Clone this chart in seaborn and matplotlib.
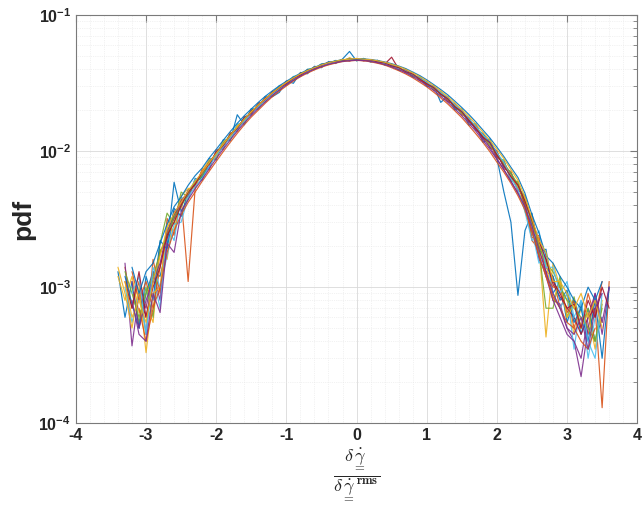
"""
PDFs of the normalised shear-rate fluctuation for a set of runs,
drawn MATLAB-style on a log y axis. Saves out.png.
"""
import numpy as np
import pandas as pd
import matplotlib
matplotlib.use("Agg")
import matplotlib.pyplot as plt
from matplotlib.ticker import FixedLocator, FixedFormatter, MultipleLocator
import seaborn as sns

# bin centres, -3.4 .. 3.6 in steps of 0.1
bin_centres = np.round(np.arange(-34, 37) / 10, 1)

# pdf values, in units of 1e-3 (None = no point)
run_01 = [1.3, 0.6, 1.1, 0.5, 0.9, 1.3, 1.2, 2.0, 5.9, 3.6,
          4.4, 6.3, 6.1, 8.8, 8.6, 12.1, 11.9, 18.5, 15.6, 20.5,
          20.3, 25.2, 25.1, 27.0, 32.8, 31.5, 37.8, 37.0, 42.0, 41.0,
          45.5, 44.0, 47.5, 54.0, 46.0, 48.0, 45.1, 46.5, 42.8, 43.6,
          39.2, 40.1, 34.9, 35.6, 29.8, 30.2, 22.8, 25.3, 20.1, 20.4,
          15.5, 15.9, 11.6, 12.3, 8.9, 5.0, 3.0, 0.87, 2.6, 3.5,
          1.8, 1.9, 0.9, 1.1, 0.55, 0.8, 0.45, 0.7, 0.4, 0.6, None]
run_02 = [None, 1.4, 0.7, 1.1, 0.45, 1.6, 0.9, 3.2, 2.4, 4.6,
          1.1, 5.3, 7.4, 7.3, 10.2, 10.3, 13.6, 14.0, 17.9, 18.4,
          22.6, 23.0, 27.5, 28.0, 32.5, 33.0, 37.5, 37.8, 41.6, 41.5,
          44.9, 44.6, 47.2, 46.0, 48.0, 46.1, 47.0, 44.6, 44.9, 41.8,
          41.5, 37.6, 37.3, 33.0, 32.4, 28.0, 27.4, 23.1, 22.3, 18.5,
          17.6, 14.2, 13.5, 10.6, 10.0, 7.4, 7.1, 5.0, 4.1, 2.2,
          1.9, 1.3, 1.2, 0.7, 0.9, 0.5, 0.75, 0.45, 0.7, 0.13, 1.1]
run_03 = [1.2, 0.8, 1.2, 0.65, 0.75, 0.55, 1.9, 1.6, 3.6, 3.4,
          4.6, 6.1, 6.4, 8.5, 8.8, 11.7, 12.1, 15.6, 16.1, 20.1,
          20.8, 24.9, 25.6, 30.0, 30.7, 35.1, 35.5, 39.8, 39.9, 43.6,
          43.4, 46.1, 45.7, 48.5, 46.4, 47.6, 45.8, 46.0, 43.5, 43.2,
          40.0, 39.5, 35.7, 34.9, 30.8, 29.9, 25.7, 24.8, 20.8, 19.9,
          16.3, 15.6, 12.2, 11.8, 8.9, 8.5, 6.1, 5.9, 3.6, 2.6,
          2.0, 0.43, 1.5, 1.0, 0.8, 0.45, 0.7, 0.5, 0.8, 0.55, None]
run_04 = [None, 1.5, 0.37, 0.9, 0.7, 1.3, 0.8, 2.4, 3.6, 3.9,
          5.2, 5.5, 7.2, 7.6, 9.9, 10.6, 13.3, 14.3, 17.7, 18.6,
          22.3, 23.3, 27.2, 28.2, 32.3, 33.2, 37.1, 37.9, 41.4, 41.7,
          44.8, 44.5, 46.9, 46.0, 47.8, 46.2, 47.1, 44.8, 44.7, 41.9,
          41.3, 37.9, 37.2, 33.2, 32.2, 28.3, 27.1, 23.4, 22.1, 18.7,
          17.4, 14.4, 13.3, 10.7, 9.9, 7.6, 6.9, 5.2, 4.6, 2.9,
          1.6, 1.3, 0.8, 0.75, 0.5, 0.4, 0.22, 0.5, 0.9, 0.45, 1.0]
run_05 = [None, None, 1.0, 0.55, 1.0, 0.6, 2.1, 3.5, 2.9, 5.0,
          4.6, 6.1, 6.4, 8.4, 8.9, 11.6, 12.2, 15.5, 16.2, 20.0,
          20.7, 25.0, 25.4, 30.1, 30.5, 35.2, 35.3, 39.9, 39.6, 43.7,
          43.2, 46.3, 45.5, 47.8, 46.2, 47.9, 45.4, 46.4, 43.3, 43.4,
          39.8, 39.7, 35.5, 35.0, 30.6, 30.1, 25.5, 25.0, 20.6, 20.1,
          16.2, 15.7, 12.1, 12.0, 8.8, 8.6, 6.0, 6.0, 3.9, 2.5,
          1.9, 0.7, 0.7, 1.2, 0.6, 0.85, 0.5, 0.7, 0.4, 0.75, None]
run_06 = [None, 1.0, 0.55, 0.9, 0.45, 1.2, 0.7, 2.8, 2.2, 4.5,
          4.7, 6.2, 6.5, 8.6, 9.0, 11.8, 12.3, 15.8, 16.3, 20.3,
          20.9, 25.1, 25.8, 30.3, 30.9, 35.4, 35.7, 40.0, 40.0, 43.8,
          43.5, 46.4, 45.8, 48.0, 46.5, 47.7, 45.9, 46.2, 43.6, 43.3,
          40.1, 39.6, 35.8, 35.1, 30.9, 30.0, 25.8, 24.9, 20.9, 20.0,
          16.4, 15.6, 12.3, 11.9, 9.0, 8.4, 6.2, 5.8, 4.2, 2.6,
          1.5, 1.7, 0.9, 0.7, 0.9, 0.35, 0.8, 0.3, 0.6, None, None]
run_07 = [None, None, None, 0.9, 0.6, 1.1, 1.8, 2.3, 3.4, 4.3,
          5.0, 5.6, 7.1, 8.3, 9.1, 10.8, 13.3, 14.5, 16.6, 19.9,
          21.0, 24.6, 26.0, 28.4, 32.4, 33.3, 36.0, 39.5, 40.1, 43.1,
          44.6, 44.9, 46.0, 47.5, 46.6, 46.2, 46.9, 45.8, 43.5, 49.0,
          40.1, 39.2, 36.9, 33.4, 31.0, 29.7, 26.9, 23.3, 21.9, 19.6,
          16.5, 15.4, 12.5, 11.6, 9.1, 8.3, 6.4, 5.7, 4.1, 3.2,
          2.0, 1.6, 1.05, 0.85, 0.7, 0.6, 0.45, 0.6, 0.7, None, None]
run_08 = [None, 1.2, 0.75, 0.5, 1.2, 0.8, 2.2, 1.9, 3.8, 3.3,
          5.1, 5.9, 6.5, 7.7, 9.8, 11.4, 12.3, 14.6, 17.6, 18.8,
          22.1, 23.6, 26.9, 29.7, 31.0, 33.5, 37.1, 38.2, 41.3, 42.0,
          43.7, 45.9, 46.8, 46.3, 47.6, 47.3, 45.8, 45.9, 44.7, 41.9,
          41.2, 38.1, 36.0, 34.6, 32.3, 28.5, 27.0, 24.6, 21.0, 19.0,
          17.5, 14.4, 13.4, 11.6, 9.8, 7.7, 6.8, 5.3, 4.7, 2.9,
          2.2, 1.4, 1.2, 0.8, 0.95, 0.55, 0.7, 0.4, 0.8, 0.3, 1.0]
run_09 = [None, None, 1.3, 0.8, 1.1, 0.7, 1.4, 2.5, 3.2, 4.2,
          4.8, 5.7, 7.0, 8.2, 9.2, 11.2, 12.6, 15.1, 16.8, 19.5,
          21.2, 24.3, 26.2, 29.3, 31.2, 34.4, 36.0, 39.1, 40.3, 42.9,
          44.5, 45.0, 46.6, 47.1, 46.8, 47.0, 46.1, 45.6, 43.8, 42.9,
          40.5, 39.0, 36.2, 34.3, 31.3, 29.3, 26.2, 24.3, 21.3, 19.4,
          16.8, 15.1, 12.7, 11.4, 9.3, 8.2, 6.4, 5.7, 4.2, 2.3,
          2.4, 1.2, 1.0, 1.0, 0.65, 0.8, 0.5, 0.9, 0.6, 1.1, None]
run_10 = [1.4, 0.9, 0.5, 1.0, 0.33, 0.9, 1.0, 2.9, 2.6, 4.7,
          5.3, 5.4, 7.2, 8.6, 9.0, 11.8, 12.4, 15.3, 16.5, 19.1,
          22.0, 23.6, 26.8, 28.5, 32.0, 33.7, 36.8, 38.4, 41.2, 42.2,
          44.3, 45.6, 46.4, 48.2, 46.9, 46.6, 46.3, 44.9, 44.4, 42.3,
          40.9, 38.3, 36.8, 33.7, 31.9, 28.6, 26.9, 23.7, 21.7, 18.8,
          17.2, 14.6, 13.1, 10.9, 9.7, 7.9, 6.6, 5.4, 4.5, 3.0,
          2.1, 1.5, 0.8, 1.1, 0.6, 0.75, 0.5, 0.65, 0.35, 0.8, None]
run_11 = [None, None, 1.1, 0.5, 0.8, 1.1, 1.5, 2.6, 3.2, 4.3,
          4.7, 6.0, 6.7, 8.3, 9.6, 11.0, 13.0, 14.6, 17.3, 19.0,
          21.3, 24.2, 26.3, 29.0, 31.8, 33.8, 36.6, 38.5, 40.8, 42.6,
          44.0, 45.3, 46.2, 46.8, 46.6, 47.0, 46.4, 45.3, 44.1, 42.5,
          40.7, 38.6, 36.3, 34.0, 31.7, 28.9, 26.4, 23.8, 21.4, 19.1,
          16.7, 14.5, 12.4, 10.7, 8.8, 7.3, 6.0, 4.9, 3.9, 2.6,
          1.7, 1.2, 0.8, 0.6, 0.45, 0.4, 0.3, 0.6, 0.9, 0.55, 1.0]
run_12 = [None, 1.3, 0.9, 0.6, 0.9, 1.2, 1.8, 2.4, 3.3, 3.9,
          4.9, 5.9, 6.6, 8.3, 9.5, 11.3, 13.2, 14.9, 16.9, 19.5,
          21.5, 23.7, 26.8, 28.9, 31.6, 34.1, 36.4, 38.7, 40.7, 42.4,
          44.3, 45.2, 46.3, 46.7, 47.1, 46.7, 46.1, 45.4, 44.0, 42.6,
          40.8, 38.7, 36.5, 34.0, 31.5, 29.0, 26.7, 24.1, 21.6, 19.1,
          17.1, 14.9, 13.0, 11.1, 9.5, 8.1, 6.9, 5.7, 4.3, 3.0,
          2.0, 1.5, 1.3, 1.0, 0.8, 0.7, 0.6, 0.5, 0.4, 0.7, None]
run_13 = [None, None, 0.9, 1.2, 0.45, 1.4, 1.0, 1.7, 2.9, 3.0,
          4.6, 5.5, 6.3, 7.7, 9.3, 10.7, 12.6, 14.5, 16.6, 18.8,
          21.1, 23.6, 26.1, 28.6, 31.2, 33.6, 36.1, 38.3, 40.3, 42.1,
          43.9, 45.0, 45.9, 46.4, 46.5, 46.5, 46.0, 45.1, 43.9, 42.4,
          40.5, 38.8, 36.7, 34.4, 32.0, 29.5, 27.1, 24.5, 22.0, 19.7,
          17.4, 15.2, 13.2, 11.4, 9.7, 8.3, 6.3, 5.2, 3.6, 2.2,
          2.6, 1.4, 1.4, 0.9, 1.1, 0.6, 0.8, 0.4, 0.3, 0.9, None]
run_14 = [None, 1.1, 0.7, 1.3, 0.6, 1.0, 1.4, 2.4, 3.0, 4.0,
          5.0, 5.7, 7.0, 8.0, 9.8, 11.0, 13.1, 14.7, 17.4, 19.0,
          21.9, 24.0, 26.8, 29.2, 31.3, 34.3, 36.2, 39.0, 40.5, 42.8,
          44.5, 45.7, 46.1, 47.2, 46.9, 46.4, 46.7, 45.2, 44.5, 42.3,
          41.0, 38.4, 36.8, 33.9, 31.3, 29.3, 26.2, 24.3, 21.2, 19.5,
          16.9, 14.7, 12.7, 11.5, 9.4, 7.8, 6.5, 5.6, 4.3, 3.1,
          2.2, 1.6, 1.1, 0.9, 0.7, 0.75, 0.5, 0.8, 0.6, 1.0, 0.7]
run_15 = [None, None, 1.4, 0.9, 1.3, 1.5, 2.1, 2.9, 3.9, 4.6,
          5.6, 6.6, 7.5, 8.9, 10.3, 12.0, 13.9, 16.0, 18.2, 20.4,
          22.8, 25.3, 27.7, 30.2, 32.6, 35.0, 37.3, 39.5, 41.2, 43.4,
          44.8, 46.0, 46.8, 47.4, 47.3, 47.6, 47.1, 46.3, 45.2, 43.9,
          42.2, 40.4, 38.1, 35.9, 33.4, 30.8, 28.3, 25.9, 23.3, 20.9,
          18.6, 16.4, 14.3, 12.5, 10.7, 9.1, 7.6, 6.4, 4.9, 3.4,
          2.5, 1.7, 1.5, 1.2, 1.0, 0.8, 0.7, 1.0, 0.8, 1.1, None]
run_16 = [None, None, None, 0.7, 0.4, 0.7, 1.0, 1.8, 2.6, 3.4,
          4.2, 5.0, 6.0, 7.1, 8.4, 9.9, 11.6, 13.5, 15.6, 17.8,
          20.0, 22.5, 25.1, 27.6, 30.1, 32.7, 35.2, 37.4, 39.5, 41.4,
          43.0, 44.3, 45.5, 46.0, 46.4, 46.1, 45.3, 44.2, 42.9, 41.0,
          39.0, 36.9, 34.6, 32.1, 29.7, 27.1, 24.6, 22.2, 19.8, 17.6,
          15.4, 13.4, 11.6, 9.9, 8.3, 7.0, 5.8, 4.7, 3.7, 2.6,
          1.7, 1.2, 0.85, 0.7, 0.55, 0.5, 0.4, 0.35, 0.5, None, None]
run_17 = [None, 1.1, 0.6, 0.8, 0.55, 1.1, 1.7, 2.7, 3.5, 4.2,
          5.1, 6.0, 7.0, 8.2, 9.6, 11.2, 13.0, 15.0, 17.2, 19.4,
          21.8, 24.2, 26.8, 29.4, 32.0, 34.5, 36.9, 39.1, 41.0, 43.0,
          44.6, 45.8, 47.0, 47.3, 47.9, 47.4, 47.0, 46.1, 45.0, 43.5,
          41.9, 39.9, 37.6, 35.3, 32.8, 30.2, 27.7, 25.1, 22.6, 20.2,
          18.0, 15.8, 13.8, 12.0, 10.3, 8.8, 7.3, 6.1, 4.6, 3.2,
          2.2, 1.8, 1.1, 1.1, 0.9, 0.7, 0.9, 0.6, 0.8, 0.5, None]
run_18 = [None, None, 0.8, 0.45, 0.4, 0.9, 0.65, 2.1, 1.8, 3.6,
          4.4, 5.3, 6.2, 7.4, 8.8, 10.3, 12.1, 14.0, 16.1, 18.3,
          20.6, 23.0, 25.6, 28.1, 30.7, 33.2, 35.6, 37.9, 40.0, 41.8,
          43.4, 44.6, 45.6, 46.2, 46.5, 46.3, 45.6, 44.6, 43.3, 41.5,
          39.6, 37.6, 35.3, 32.9, 30.4, 27.9, 25.3, 22.9, 20.4, 18.2,
          16.0, 14.0, 12.0, 10.3, 8.7, 7.3, 6.0, 4.9, 3.9, 2.8,
          1.9, 1.3, 0.9, 0.7, 0.5, 0.45, 0.6, 0.35, 0.7, 0.9, None]

runs = [run_01, run_02, run_03, run_04, run_05, run_06, run_07, run_08,
        run_09, run_10, run_11, run_12, run_13, run_14, run_15, run_16,
        run_17, run_18]

# MATLAB default line colours
matlab_colors = ["#0072BD", "#D95319", "#EDB120", "#7E2F8E",
                 "#77AC30", "#4DBEEE", "#A2142F"]

y_ticks = [1e-4, 1e-3, 1e-2, 1e-1]
y_tick_labels = [r"$\mathbf{10^{-4}}$", r"$\mathbf{10^{-3}}$",
                 r"$\mathbf{10^{-2}}$", r"$\mathbf{10^{-1}}$"]
x_ticks = [-4, -3, -2, -1, 0, 1, 2, 3, 4]


def long_table():
    """
    Stacks the runs into one long dataframe with columns x, pdf, run
    """
    frames = []
    for i, run in enumerate(runs):
        assert len(run) == len(bin_centres), i
        vals = np.array([np.nan if v is None else v for v in run]) * 1e-3
        frames.append(pd.DataFrame({"x": bin_centres, "pdf": vals,
                                    "run": "run %d" % (i + 1)}))
    df = pd.concat(frames, ignore_index=True)
    return df.dropna()


def main():
    sns.set_style("white")
    plt.rcParams["font.family"] = ["Liberation Sans", "DejaVu Sans"]
    plt.rcParams["axes.unicode_minus"] = False
    plt.rcParams["mathtext.fontset"] = "custom"
    plt.rcParams["mathtext.rm"] = "Liberation Sans"
    plt.rcParams["mathtext.bf"] = "Liberation Sans:bold"

    df = long_table()
    palette = [matlab_colors[i % 7] for i in range(len(runs))]

    fig = plt.figure(figsize=(6.43, 5.18), dpi=100)
    ax = fig.add_axes([0.118, 0.183, 0.873, 0.788])
    sns.lineplot(data=df, x="x", y="pdf", hue="run", palette=palette,
                 legend=False, estimator=None, sort=False, lw=0.85,
                 alpha=0.9, ax=ax)

    ax.set_yscale("log")
    ax.set_xlim(-4, 4)
    ax.set_ylim(1e-4, 1e-1)

    ax.xaxis.set_major_locator(FixedLocator(x_ticks))
    ax.xaxis.set_minor_locator(MultipleLocator(0.2))
    ax.set_xticklabels([str(t) for t in x_ticks])
    ax.yaxis.set_major_locator(FixedLocator(y_ticks))
    ax.yaxis.set_major_formatter(FixedFormatter(y_tick_labels))

    # matlab look: grid, boxed axes, inward ticks
    ax.grid(True, which="major", color="#d9d9d9", lw=0.6)
    ax.grid(True, which="minor", color="#e6e6e6", lw=0.5, ls=":")
    for side in ax.spines.values():
        side.set_color("#7a7a7a")
        side.set_linewidth(0.8)
    ax.tick_params(which="both", direction="in", top=True, right=True,
                   colors="#7a7a7a", labelcolor="#262626")
    ax.tick_params(which="major", length=5, width=0.8, labelsize=11.5)
    ax.tick_params(axis="y", which="minor", length=3, width=0.6)
    ax.tick_params(axis="x", which="minor", length=0)
    for lab in ax.get_xticklabels():
        lab.set_fontweight("bold")

    ax.set_ylabel("pdf", fontsize=19, fontweight="bold", color="#262626",
                  labelpad=2)
    ax.set_xlabel(r"$\dfrac{\delta\underset{=}{\dot{\gamma}}}"
                  r"{\delta\underset{=}{\dot{\gamma}}^{\mathbf{rms}}}$",
                  fontsize=13, math_fontfamily="cm", color="#262626",
                  labelpad=2)

    fig.savefig("out.png", dpi=100)


if __name__ == "__main__":
    main()
